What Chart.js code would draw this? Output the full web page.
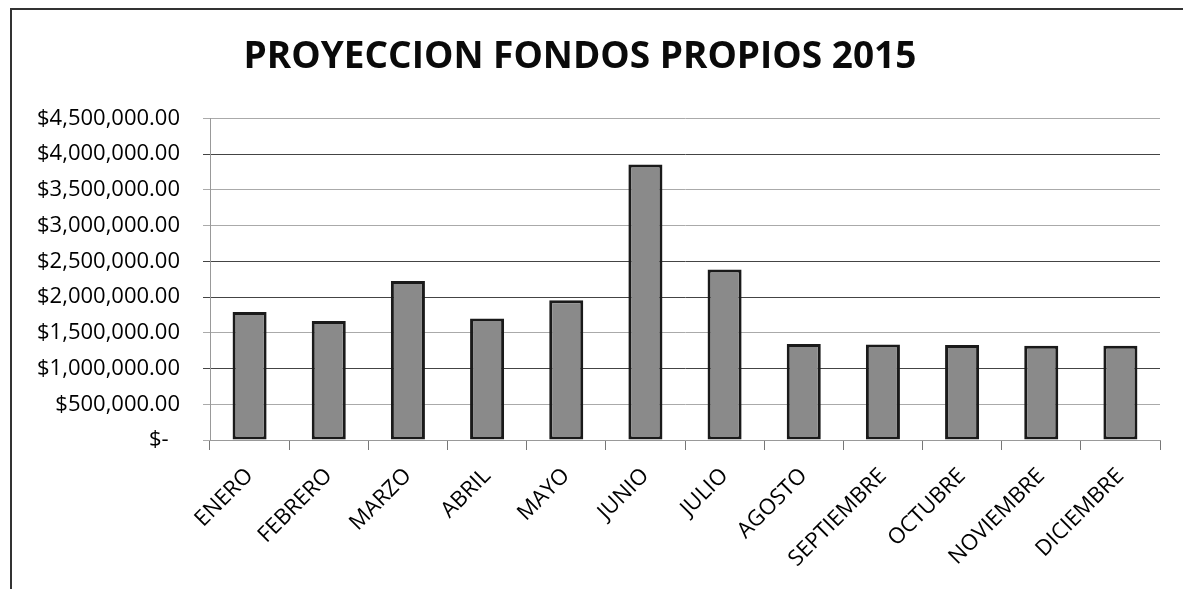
<!DOCTYPE html>
<html>
<head>
<meta charset="utf-8">
<script src="https://cdn.jsdelivr.net/npm/chart.js@4"></script>
<style>
  html, body { margin: 0; padding: 0; background: #fff; overflow: hidden; }
  #wrap { position: relative; width: 1183px; height: 589px; overflow: hidden; }
  #frame { position: absolute; left: 10px; top: 8px; width: 1300px; height: 700px; border: 2px solid #333; }
  #chart { position: absolute; left: 0; top: 0; }
</style>
</head>
<body>
<div id="wrap">
  <div id="frame"></div>
  <canvas id="chart" width="1183" height="589"></canvas>
</div>
<script>
//Months on the x axis
const months = ["ENERO", "FEBRERO", "MARZO", "ABRIL", "MAYO", "JUNIO", "JULIO", "AGOSTO", "SEPTIEMBRE", "OCTUBRE", "NOVIEMBRE", "DICIEMBRE"];
//Projected amounts
const amounts = [1790000, 1665000, 2225000, 1700000, 1955000, 3855000, 2385000, 1345000, 1337000, 1328000, 1318000, 1318000];
//Y axis range
const yMin = 0;
const yMax = 4500000;
const yStep = 500000;
//gridlines that look solid in the scan
const darkLines = [1000000, 2000000, 2500000, 4000000];

const money = (v) => v === 0 ? "$-  " : "$" + v.toLocaleString("en-US", { minimumFractionDigits: 2, maximumFractionDigits: 2 });

const ctx = document.getElementById("chart");
let myChart = new Chart(ctx, {
  type: "bar",
  data: {
    labels: months,
    datasets: [
      {
        data: amounts,
        backgroundColor: "#8a8a8a",
        borderColor: "#1a1a1a",
        borderWidth: 3,
        borderSkipped: false,
        categoryPercentage: 1,
        barPercentage: 0.43,
      },
    ],
  },
  options: {
    responsive: false,
    animation: false,
    layout: { padding: { left: 0, right: 23, top: 0, bottom: 0 } },
    plugins: {
      legend: { display: false },
      tooltip: { enabled: false },
      title: {
        display: true,
        text: "PROYECCION FONDOS PROPIOS 2015",
        color: "#0a0a0a",
        font: { family: "Open Sans", size: 37, weight: "bold", lineHeight: 1.2 },
        padding: { top: 35, bottom: 39 },
      },
    },
    scales: {
      x: {
        afterFit: (scale) => { scale.height = 149; },
        grid: {
          offset: true,
          drawOnChartArea: false,
          drawTicks: true,
          tickLength: 10,
          color: "#777",
        },
        border: { display: true, color: "#999", width: 1 },
        ticks: {
          color: "#000",
          minRotation: 45,
          maxRotation: 45,
          padding: 13,
          font: { family: "Open Sans", size: 22 },
        },
      },
      y: {
        min: yMin,
        max: yMax,
        afterFit: (scale) => { scale.width = 210; },
        grid: {
          tickLength: 7,
          color: (c) => darkLines.includes(c.tick && c.tick.value) ? "#444" : "#aaa",
          lineWidth: 1,
        },
        border: { display: true, color: "#999", width: 1 },
        ticks: {
          stepSize: yStep,
          color: "#000",
          padding: 23,
          font: { family: "Open Sans", size: 22 },
          callback: (v) => money(v),
        },
      },
    },
  },
});
</script>
</body>
</html>
